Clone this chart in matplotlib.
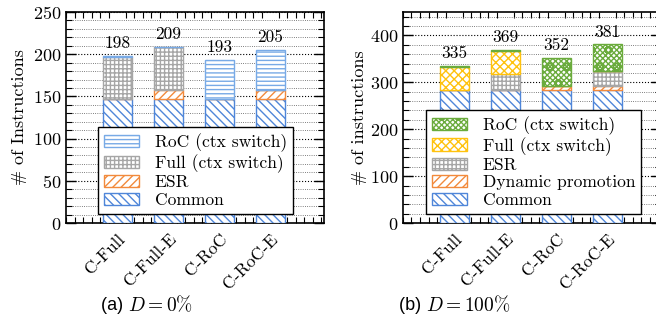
import matplotlib
matplotlib.use("Agg")
import matplotlib.pyplot as plt
from matplotlib.ticker import MultipleLocator

configs = ["C-Full", "C-Full-E", "C-RoC", "C-RoC-E"]

# (a) D = 0%
a_common = [147, 147, 147, 147]
a_esr = [0, 11, 0, 11]
a_full = [50, 50, 0, 0]
a_roc = [1, 1, 46, 47]

# (b) D = 100%
b_common = [284, 284, 284, 284]
b_promo = [0, 0, 9, 9]
b_esr = [0, 34, 0, 31]
b_full = [49, 49, 0, 0]
b_roc = [2, 2, 59, 57]

BLUE = "#4f86d9"
LBLUE = "#78aae6"
ORANGE = "#f28a3c"
GRAY = "#a6a6a6"
YELLOW = "#ffc20e"
GREEN = "#6aab3c"

plt.rcParams["font.family"] = "cmr10"
plt.rcParams["mathtext.fontset"] = "cm"
plt.rcParams["axes.formatter.use_mathtext"] = True
plt.rcParams["hatch.linewidth"] = 1.0
plt.rcParams["axes.unicode_minus"] = False

fig = plt.figure(figsize=(6.56, 3.33), dpi=100)
ax_a = fig.add_axes([0.1006, 0.3303, 0.3933, 0.6336])
ax_b = fig.add_axes([0.6143, 0.3303, 0.3933, 0.6336])

x = list(range(len(configs)))
width = 0.57


def stack(ax, segments):
    bottom = [0] * len(configs)
    handles = []
    for vals, label, color, hatch in segments:
        h = ax.bar(x, vals, width, bottom=bottom, facecolor="white", edgecolor=color,
                   hatch=hatch, linewidth=1.0, label=label, zorder=3)
        handles.append(h)
        bottom = [b + v for b, v in zip(bottom, vals)]
    return handles, bottom


def style(ax, ymax, minor, major):
    ax.set_xlim(-1.0, 4.05)
    ax.set_ylim(0, ymax)
    ax.yaxis.set_major_locator(MultipleLocator(major))
    ax.yaxis.set_minor_locator(MultipleLocator(minor))
    ax.xaxis.set_minor_locator(MultipleLocator(1 / 6))
    ax.set_xticks(x)
    ax.set_xticklabels(configs, rotation=45, ha="right", rotation_mode="anchor", fontsize=12.5)
    ax.tick_params(axis="both", which="both", direction="in", top=True, right=True)
    ax.tick_params(axis="y", which="major", length=7, width=1.0, labelsize=13)
    ax.tick_params(axis="y", which="minor", length=4, width=0.8)
    ax.tick_params(axis="x", which="major", length=0, pad=6)
    ax.tick_params(axis="x", which="minor", length=4, width=0.8)
    ax.grid(axis="y", which="major", linestyle=":", color="black", linewidth=0.8, zorder=0)
    ax.grid(axis="y", which="minor", linestyle=":", color="#555555", linewidth=0.6, zorder=0)
    for s in ax.spines.values():
        s.set_linewidth(1.2)


def add_legend(ax, handles, x0):
    leg = ax.legend(handles=handles[::-1], loc="lower left", bbox_to_anchor=(x0, 0.043),
                    borderaxespad=0, fontsize=12.6, frameon=True, fancybox=False,
                    edgecolor="black", framealpha=1, handlelength=2.0, handleheight=0.7,
                    labelspacing=0.12, borderpad=0.35, handletextpad=0.9)
    leg.get_frame().set_linewidth(1.0)
    leg.set_zorder(5)


seg_a = [
    (a_common, "Common", BLUE, "\\\\\\\\"),
    (a_esr, "ESR", ORANGE, "////"),
    (a_full, "Full (ctx switch)", GRAY, "++++"),
    (a_roc, "RoC (ctx switch)", LBLUE, "----"),
]
h_a, tot_a = stack(ax_a, seg_a)
style(ax_a, 250, 10, 50)
ax_a.set_ylabel("# of Instructions", fontsize=13, labelpad=4)
for xi, t in zip(x, tot_a):
    ax_a.text(xi, t + 6, f"{t}", ha="center", va="bottom", fontsize=12.5)
add_legend(ax_a, h_a, 0.124)

seg_b = [
    (b_common, "Common", BLUE, "\\\\\\\\"),
    (b_promo, "Dynamic promotion", ORANGE, "////"),
    (b_esr, "ESR", GRAY, "++++"),
    (b_full, "Full (ctx switch)", YELLOW, "xxxx"),
    (b_roc, "RoC (ctx switch)", GREEN, "xxxxxxo"),
]
h_b, tot_b = stack(ax_b, seg_b)
style(ax_b, 450, 20, 100)
ax_b.set_ylabel("# of instructions", fontsize=13, labelpad=2)
for xi, t in zip(x, tot_b):
    ax_b.text(xi, t + 10, f"{t}", ha="center", va="bottom", fontsize=12.5)
add_legend(ax_b, h_b, 0.089)

fig.text(0.195, 0.084, "(a) ", family="Liberation Sans", fontsize=13, ha="right", va="center")
fig.text(0.195, 0.084, r"$D = 0\%$", fontsize=14, ha="left", va="center")
fig.text(0.650, 0.084, "(b) ", family="Liberation Sans", fontsize=13, ha="right", va="center")
fig.text(0.650, 0.084, r"$D = 100\%$", fontsize=14, ha="left", va="center")

fig.savefig("out.png", dpi=100)
